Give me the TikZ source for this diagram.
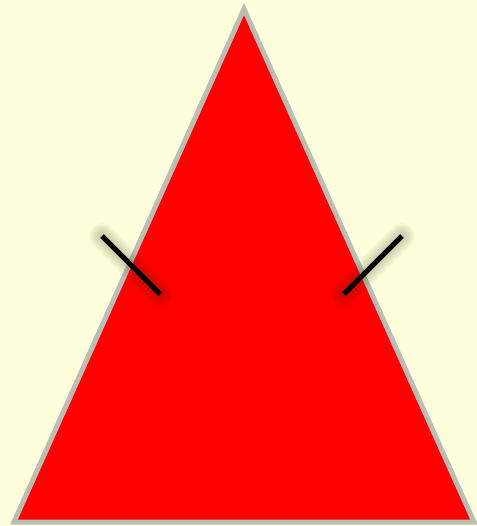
\documentclass[tikz,border=0pt]{standalone}
\usepackage{tikz}
\definecolor{isoPaper}{HTML}{FFFFDD}
\definecolor{isoFill}{HTML}{FF0000}
\definecolor{isoEdge}{HTML}{BDBDB5}
\definecolor{isoInk}{HTML}{000000}
\definecolor{isoGlow}{HTML}{3A3A10}
\tikzset{
  iso figure/.style={x=0.03cm, y=-0.03cm, line join=miter},
  iso side/.style={draw=isoEdge, fill=isoFill, line width=5*0.03cm},
  iso tick/.style={draw=isoInk, line width=5*0.03cm},
  iso glow/.style={draw=isoGlow, line cap=round, opacity=0.035}
}
\begin{document}
\begin{tikzpicture}[iso figure]
\fill[isoPaper] (0,0) rectangle (477,526);
\useasboundingbox (0,0) rectangle (477,526);
% the triangle
\coordinate (apex) at (244,9);
\coordinate (left) at (14,522);
\coordinate (right) at (474,522);
\draw[iso side] (apex) -- (left) -- (right) -- cycle;
% equal-side marks
\coordinate (l1) at (102,236);
\coordinate (l2) at (160,294);
\coordinate (r1) at (344,294);
\coordinate (r2) at (402,236);
\foreach \w in {26,23,20,17,14,11,8}{
  \draw[iso glow, line width=\w*0.03cm] (l1) -- (l2);
  \draw[iso glow, line width=\w*0.03cm] (r1) -- (r2);
}
\draw[iso tick] (l1) -- (l2);
\draw[iso tick] (r1) -- (r2);
\end{tikzpicture}
\end{document}
